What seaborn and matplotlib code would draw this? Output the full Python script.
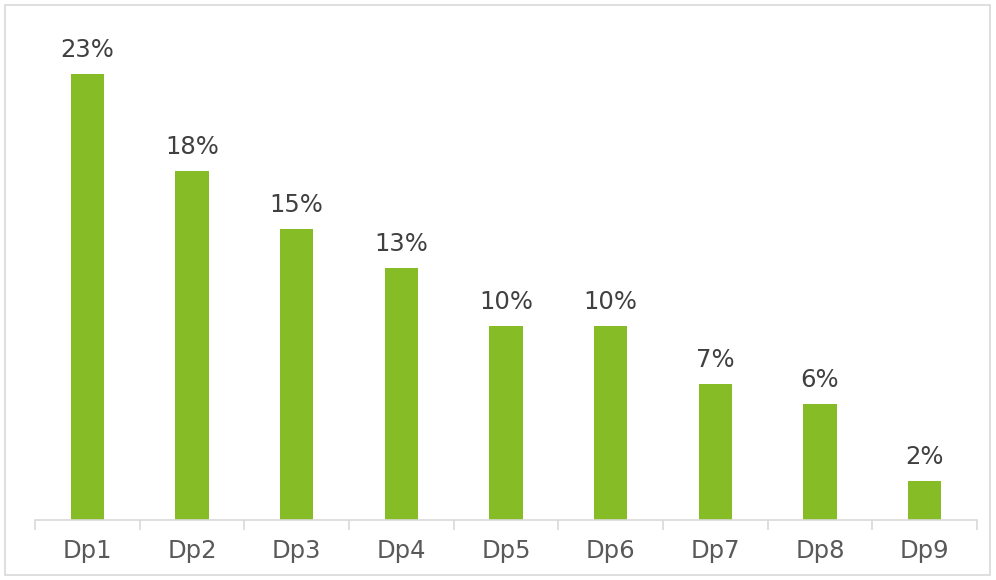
import matplotlib
matplotlib.use('Agg')
import matplotlib.pyplot as plt
import seaborn as sns
import pandas as pd
from matplotlib.patches import Rectangle

# data
categories = ['Dp1', 'Dp2', 'Dp3', 'Dp4', 'Dp5', 'Dp6', 'Dp7', 'Dp8', 'Dp9']
shares = [23, 18, 15, 13, 10, 10, 7, 6, 2]

df = pd.DataFrame({'cat': categories, 'share': shares})

sns.set_style('white')
plt.rcParams['font.family'] = ['DejaVu Sans']

fig = plt.figure(figsize=(9.96, 5.8), dpi=100)
ax = fig.add_axes([35 / 996, 60 / 580, 942 / 996, 500 / 580])

sns.barplot(data=df, x='cat', y='share', color='#86BC25', width=0.32,
            saturation=1, linewidth=0, ax=ax)

# percent labels on top of bars
for i, v in enumerate(shares):
    ax.annotate(f'{v}%', (i, v), xytext=(0, 8.5), textcoords='offset points',
                ha='center', va='bottom', fontsize=17.5, color='#404040')

ax.set_xlim(-0.5, len(categories) - 0.5)
ax.set_ylim(0, 500 / 19.39)
ax.set_xlabel('')
ax.set_ylabel('')
ax.set_yticks([])

# ticks between categories, labels at centers
ax.set_xticks([i - 0.5 for i in range(len(categories) + 1)], minor=True)
ax.tick_params(axis='x', which='minor', bottom=True, length=7, width=1.2,
               color='#d9d9d9', direction='out')
ax.tick_params(axis='x', which='major', bottom=True, length=0, pad=14,
               labelsize=17.5, labelcolor='#595959')

for s in ['top', 'right', 'left']:
    ax.spines[s].set_visible(False)
ax.spines['bottom'].set_color('#d9d9d9')
ax.spines['bottom'].set_linewidth(1.2)

# outer chart border
fig.patches.append(Rectangle((5 / 996, 5 / 580), 985 / 996, 570 / 580,
                             transform=fig.transFigure, fill=False,
                             edgecolor='#d9d9d9', linewidth=1.2))

fig.savefig('out.png', dpi=100)
